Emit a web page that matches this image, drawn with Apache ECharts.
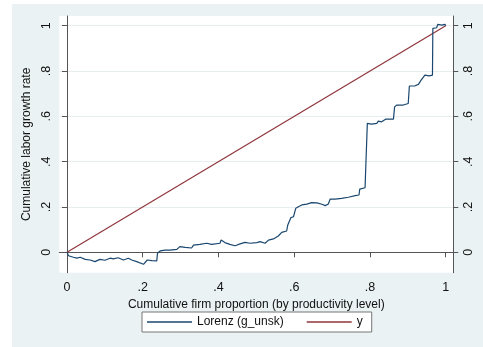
<!DOCTYPE html>
<html><head><meta charset="utf-8">
<script src="https://cdn.jsdelivr.net/npm/echarts@6/dist/echarts.min.js"></script>
<style>html,body{margin:0;padding:0;background:#fff;}#c{width:483px;height:347px;}</style>
</head><body><div id="c"></div>
<script>
var tickValues = [0, 0.2, 0.4, 0.6, 0.8, 1];
var seriesNames = ['Lorenz (g_unsk)', 'y'];
var lorenzX = [0, 0.004, 0.017, 0.026, 0.035, 0.048, 0.061, 0.074, 0.087, 0.100, 0.114, 0.122, 0.135, 0.149, 0.162, 0.171, 0.184, 0.202, 0.212, 0.224, 0.237, 0.239, 0.246, 0.259, 0.272, 0.290, 0.298, 0.312, 0.329, 0.334, 0.351, 0.369, 0.382, 0.404, 0.407, 0.417, 0.430, 0.444, 0.457, 0.470, 0.483, 0.501, 0.510, 0.523, 0.532, 0.545, 0.558, 0.567, 0.580, 0.583, 0.591, 0.598, 0.604, 0.611, 0.620, 0.633, 0.646, 0.660, 0.673, 0.682, 0.690, 0.695, 0.708, 0.725, 0.743, 0.761, 0.771, 0.773, 0.787, 0.791, 0.793, 0.804, 0.818, 0.822, 0.831, 0.842, 0.862, 0.865, 0.871, 0.888, 0.901, 0.904, 0.919, 0.928, 0.935, 0.945, 0.956, 0.965, 0.966, 0.976, 0.979, 0.990, 0.998, 1.0];
var lorenzY = [0, -0.015, -0.022, -0.026, -0.022, -0.031, -0.034, -0.041, -0.031, -0.035, -0.026, -0.029, -0.024, -0.034, -0.026, -0.034, -0.041, -0.053, -0.034, -0.037, -0.038, -0.004, 0.006, 0.010, 0.010, 0.013, 0.025, 0.022, 0.019, 0.032, 0.035, 0.040, 0.035, 0.040, 0.054, 0.043, 0.035, 0.029, 0.037, 0.044, 0.040, 0.043, 0.047, 0.040, 0.054, 0.059, 0.072, 0.088, 0.094, 0.121, 0.153, 0.157, 0.194, 0.201, 0.209, 0.213, 0.219, 0.218, 0.212, 0.206, 0.213, 0.235, 0.235, 0.238, 0.243, 0.250, 0.253, 0.279, 0.285, 0.290, 0.569, 0.566, 0.569, 0.579, 0.576, 0.588, 0.588, 0.642, 0.650, 0.650, 0.657, 0.734, 0.735, 0.741, 0.760, 0.782, 0.779, 0.782, 0.988, 0.991, 1.006, 1.003, 1.006, 1.0];
var lineX = [0, 1];
var lineY = [0, 1];

function fmt(v) {
  if (v === 0) return '0';
  if (v === 1) return '1';
  return String(v).replace(/^0/, '');
}
function pairs(xs, ys) { return xs.map(function (x, i) { return [x, ys[i]]; }); }

var FONT = 'Liberation Sans';
var axisColor = '#555';
var yAxisCommon = {
  type: 'value', min: -0.09, max: 1.043,
  axisLine: { show: true, lineStyle: { color: axisColor, width: 1 } },
  axisTick: { show: true, length: 5, customValues: tickValues, lineStyle: { color: axisColor } },
  axisLabel: { rotate: 90, margin: 6, customValues: tickValues, formatter: fmt, color: '#111', fontFamily: FONT, fontSize: 12.5 },
  splitLine: { show: false }
};

var chart = echarts.init(document.getElementById('c'));
chart.setOption({
  animation: false,
  backgroundColor: '#fff',
  graphic: [{ type: 'rect', left: 12, top: 4, shape: { width: 471, height: 343 }, style: { fill: '#EAF2F3' }, z: -10 },
            { type: 'rect', left: 59.3, top: 16, shape: { width: 394, height: 256.7 }, style: { fill: '#fff' }, z: -9 }],
  grid: { left: 59.3, right: 29.7, top: 16, bottom: 74.3, containLabel: false },
  xAxis: {
    type: 'value', min: -0.0203, max: 1.02,
    name: 'Cumulative firm proportion (by productivity level)', nameLocation: 'middle', nameGap: 19,
    nameTextStyle: { fontFamily: FONT, fontSize: 12, color: '#111' },
    axisLine: { show: true, lineStyle: { color: axisColor, width: 1 } },
    axisTick: { show: true, length: 5, customValues: tickValues, lineStyle: { color: axisColor } },
    axisLabel: { margin: 8, customValues: tickValues, formatter: fmt, color: '#111', fontFamily: FONT, fontSize: 12.5 },
    splitLine: { show: false }
  },
  yAxis: [
    Object.assign({}, yAxisCommon, {
      position: 'left',
      name: 'Cumulative labor growth rate', nameLocation: 'middle', nameGap: 21,
      nameTextStyle: { fontFamily: FONT, fontSize: 12, color: '#111' },
      splitLine: { show: true, lineStyle: { color: '#E6EEF0', width: 1 } }
    }),
    Object.assign({}, yAxisCommon, { position: 'right', axisLabel: Object.assign({}, yAxisCommon.axisLabel, { margin: 9 }) })
  ],
  legend: {
    left: 142, top: 312, padding: [4, 9, 4, 5], itemGap: 23, itemWidth: 45, itemHeight: 1.5,
    backgroundColor: '#fff', borderColor: '#777', borderWidth: 1, borderRadius: 0,
    icon: 'rect', textStyle: { fontFamily: FONT, fontSize: 12, color: '#111' },
    data: seriesNames
  },
  series: [
    { name: seriesNames[0], type: 'line', data: pairs(lorenzX, lorenzY), showSymbol: false, symbol: 'none',
      lineStyle: { color: '#1A476F', width: 1.2 }, itemStyle: { color: '#1A476F' }, z: 3 },
    { name: seriesNames[1], type: 'line', data: pairs(lineX, lineY), showSymbol: false, symbol: 'none',
      lineStyle: { color: '#90353B', width: 1.2 }, itemStyle: { color: '#90353B' }, z: 2 }
  ]
});
</script></body></html>
